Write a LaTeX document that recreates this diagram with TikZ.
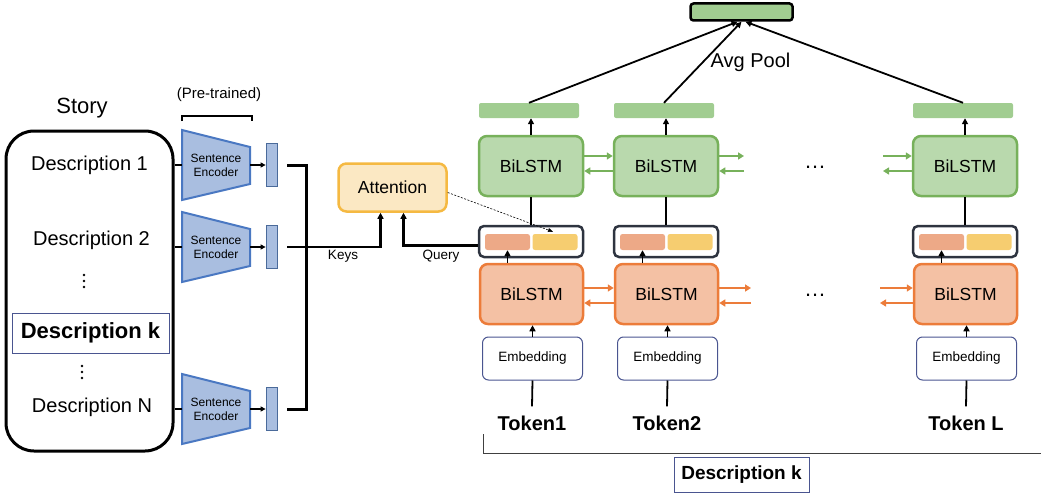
\documentclass[tikz,border=0pt]{standalone}
\usepackage{fontspec}
\setmainfont{Liberation Sans}
\usetikzlibrary{arrows.meta}
\definecolor{encfill}{HTML}{A9BEE0}
\definecolor{encdraw}{HTML}{4A78C2}
\definecolor{vecdraw}{HTML}{4A6A9A}
\definecolor{grfill}{HTML}{B9D9AD}
\definecolor{grdraw}{HTML}{77B15B}
\definecolor{grbar}{HTML}{A1CD91}
\definecolor{orfill}{HTML}{F4C1A4}
\definecolor{ordraw}{HTML}{EC7C3A}
\definecolor{salmon}{HTML}{EDA987}
\definecolor{yel}{HTML}{F6CD70}
\definecolor{attfill}{HTML}{FBE8C3}
\definecolor{attdraw}{HTML}{F5B942}
\definecolor{catdraw}{HTML}{2E3440}
\definecolor{navy}{HTML}{4A5590}
\newcommand{\fsz}[1]{\fontsize{#1}{#1}\selectfont}
\begin{document}
\begin{tikzpicture}[x=1pt,y=-1pt,
  lbl/.style={inner sep=0pt},
  gbox/.style={draw=grdraw, fill=grfill, line width=2.5pt, rounded corners=8pt,
    minimum width=104pt, minimum height=60pt, font=\fsz{17.5}},
  obox/.style={draw=ordraw, fill=orfill, line width=2.5pt, rounded corners=8pt,
    minimum width=103pt, minimum height=60pt, font=\fsz{17.5}},
  gbar/.style={fill=grbar, rounded corners=2pt, minimum width=100pt, minimum height=15pt, inner sep=0pt},
  topbar/.style={fill=grbar, draw=black, line width=2.5pt, rounded corners=3pt,
    minimum width=102pt, minimum height=17pt, inner sep=0pt},
  catbox/.style={draw=catdraw, line width=2.5pt, rounded corners=5pt,
    minimum width=104pt, minimum height=31pt, inner sep=0pt},
  half/.style={rounded corners=2.5pt, minimum width=45pt, minimum height=16pt, inner sep=0pt},
  embbox/.style={draw=navy, line width=1pt, rounded corners=6pt,
    minimum width=100pt, minimum height=43pt, font=\fsz{13.5}},
  tok/.style={inner sep=0pt, font=\bfseries\fsz{20}},
  arr/.style={line width=1.8pt, -{Triangle[length=6pt,width=6pt]}},
  garr/.style={draw=grdraw, line width=2pt, -{Triangle[length=6pt,width=7pt]}},
  oarr/.style={draw=ordraw, line width=2pt, -{Triangle[length=6pt,width=7pt]}},
  encshape/.style={draw=encdraw, fill=encfill, line width=2pt, line join=miter},
  vecbox/.style={draw=vecdraw, fill=encfill, line width=0.8pt, minimum width=11pt,
    minimum height=43pt, inner sep=0pt},
  wire/.style={line width=3pt}
]
\useasboundingbox (0,0) rectangle (1041,495);

% ---------------- story with its descriptions ----------------
\node[lbl, font=\fsz{22}] (storylbl) at (82,108) {Story};
\node[draw, line width=3pt, rounded corners=28pt, minimum width=167pt,
  minimum height=320pt] (story) at (89.5,291) {};
\node[lbl, font=\fsz{20}] (d1) at (89.5,165) {Description 1};
\node[lbl, font=\fsz{20}] (d2) at (91.5,240) {Description 2};
\node[draw=navy, line width=1pt, minimum width=157pt, minimum height=40pt,
  inner sep=0pt, font=\bfseries\fsz{22}] (dk) at (90.5,333) {Description k};
\node[lbl, font=\fsz{20}] (dN) at (92,407) {Description N};
\foreach \yy in {275,281,287} \fill (84,\yy) circle (1.3pt);
\foreach \yy in {366,372,378} \fill (82,\yy) circle (1.3pt);

% ---------------- pre-trained sentence encoders ----------------
\node[lbl, font=\fsz{15}] (pre) at (219,95) {(Pre-trained)};
\draw[line width=1.2pt] (182,121) -- (182,116) -- (252,116) -- (252,121);

\foreach \i/\y in {1/165,2/247,N/409}{
  \draw[encshape] (182,\y-35) -- (250,\y-18) -- (250,\y+19) -- (182,\y+35) -- cycle;
  \node[lbl, align=center, font=\fontsize{12}{14}\selectfont] (enc\i) at (216,\y) {Sentence\\Encoder};
  \coordinate (encin\i) at (182,\y);
  \coordinate (encout\i) at (250,\y);
  \node[vecbox] (vec\i) at (271.5,\y) {};
  \coordinate (vo\i) at ([xshift=10pt]vec\i.east);
  \draw[line width=1.5pt] (story.east |- encin\i) -- (encin\i);
  \draw[line width=1.2pt, -{Triangle[length=5pt,width=5pt]}] (encout\i) -- (vec\i.west);
}
\coordinate (busB) at (306,409);
\draw[wire] (vo1) -| (busB) -- (voN);

% ---------------- attention ----------------
\node[draw=attdraw, fill=attfill, line width=2.5pt, rounded corners=8pt,
  minimum width=108pt, minimum height=48pt, font=\fsz{17.5}] (att) at (392.5,187.5) {Attention};
\draw[arr, line width=2.5pt] (vo2) -| ([xshift=-12pt]att.south);
\node[lbl, font=\fsz{13.5}] (keys) at (343,256) {Keys};
\node[lbl, font=\fsz{13.5}] (query) at (441,256) {Query};

% ---------------- token columns ----------------
\foreach \c/\x/\t in {1/531/Token1, 2/666/Token2, L/965/Token L}{
  \node[gbox] (g\c) at (\x,166) {BiLSTM};
  \node[gbar] (b\c) at (\x-2,110.5) {};
  \node[catbox] (k\c) at (\x,241.5) {};
  \node[half, fill=salmon] (s\c) at (\x-23.5,242) {};
  \node[half, fill=yel] (y\c) at (\x+24,242) {};
  \node[obox] (o\c) at (\x+0.5,294) {BiLSTM};
  \node[embbox] (e\c) at (\x+1.5,358.5) {Embedding};
  \node[tok] (t\c) at (\x+1,423) {\t};
  \draw[arr] (g\c.north) -- (g\c.north |- b\c.south);
  \draw[line width=1.8pt] (g\c.south) -- (g\c.south |- k\c.north);
  \draw[arr] (s\c.south |- o\c.north) -- (s\c.south);
  \draw[arr] (e\c.north) -- (e\c.north |- o\c.south);
  \draw[line width=1.8pt] (e\c.south) -- ([yshift=9pt]t\c.north);
}

% query from the first concatenated state
\draw[arr, line width=2.5pt] ([yshift=-4pt]k1.west) -| ([xshift=11pt]att.south);
\draw[dash pattern=on 2pt off 1.5pt, line width=0.6pt, -{Triangle[length=5pt,width=4pt]}]
  ([yshift=-5pt]att.east) -- ([xshift=-2pt,yshift=2pt]y1.north);

% recurrent links between neighbouring cells
\coordinate (g2r) at (744,166);
\coordinate (gLl) at (883,166);
\coordinate (o2r) at (751,294);
\coordinate (oLl) at (880,294);
\draw[garr] ([yshift=10pt]g1.east) -- ([yshift=10pt]g1.east -| g2.west);
\draw[garr] ([yshift=-5pt]g2.west) -- ([yshift=-5pt]g2.west -| g1.east);
\draw[garr] ([yshift=10pt]g2.east) -- ([yshift=10pt]g2r);
\draw[garr] ([yshift=-5pt]g2r) -- ([yshift=-5pt]g2.east);
\draw[garr] ([yshift=10pt]gLl) -- ([yshift=10pt]gL.west);
\draw[garr] ([yshift=-5pt]gL.west) -- ([yshift=-5pt]gLl);
\draw[oarr] ([yshift=6pt]o1.east) -- ([yshift=6pt]o1.east -| o2.west);
\draw[oarr] ([yshift=-9pt]o2.west) -- ([yshift=-9pt]o2.west -| o1.east);
\draw[oarr] ([yshift=6pt]o2.east) -- ([yshift=6pt]o2r);
\draw[oarr] ([yshift=-9pt]o2r) -- ([yshift=-9pt]o2.east);
\draw[oarr] ([yshift=6pt]oLl) -- ([yshift=6pt]oL.west);
\draw[oarr] ([yshift=-9pt]oL.west) -- ([yshift=-9pt]oLl);
\node[lbl, font=\fsz{22}] (gdots) at (815,167) {…};
\node[lbl, font=\fsz{22}] (odots) at (815,295) {…};

% ---------------- average pooling ----------------
\node[topbar] (pool) at (741.5,12) {};
\draw[arr] (b1.north) -- ([xshift=-4pt]pool.south);
\draw[arr] (b2.north) -- ([xshift=0pt]pool.south);
\draw[arr] (bL.north) -- ([xshift=4pt]pool.south);
\node[lbl, font=\fsz{20}] (avg) at (750.5,62) {Avg Pool};

% ---------------- span of description k ----------------
\coordinate (brL) at (483,434);
\coordinate (brR) at (1041,453);
\draw[line width=1pt, draw=black!75] (brL) |- (brR);
\node[draw=navy, line width=1pt, minimum width=135pt, minimum height=35pt,
  inner sep=0pt, font=\bfseries\fsz{19}] (dkb) at (741.5,474.5) {Description k};
\end{tikzpicture}
\end{document}
